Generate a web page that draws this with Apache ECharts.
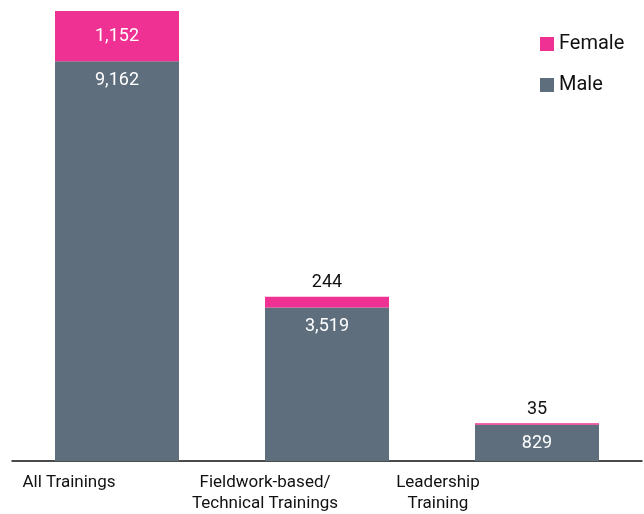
<!DOCTYPE html>
<html>
<head>
<meta charset="utf-8">
<script src="https://cdn.jsdelivr.net/npm/echarts@6/dist/echarts.min.js"></script>
<style>
html, body { margin: 0; padding: 0; background: #fff; }
#chart { width: 644px; height: 514px; }
</style>
</head>
<body>
<div id="chart"></div>
<script type="text/javascript">

var categories = ['All Trainings', 'Fieldwork-based/\nTechnical Trainings', 'Leadership\nTraining'];
var male = [9162, 3519, 829];
var female = [1152, 244, 35];

// labels in the original sit left of the bar centre, by a different amount each
var labelShift = [96, 124, 198];

var rich = {};
labelShift.forEach(function (s, i) {
    rich['s' + i] = { padding: [0, s, 0, 0], fontSize: 17, lineHeight: 21, color: '#111', fontFamily: 'Roboto' };
});

var femaleData = female.map(function (v, i) {
    if (i === 0) {
        return { value: v, label: { position: 'inside', color: '#fff' } };
    }
    return { value: v, label: { position: 'top', color: '#111', distance: 5 } };
});

var option = {
    animation: false,
    textStyle: { fontFamily: 'Roboto' },
    legend: {
        data: ['Female', 'Male'],
        orient: 'vertical',
        left: 535,
        top: 29,
        icon: 'rect',
        itemWidth: 14,
        itemHeight: 14,
        itemGap: 21,
        textStyle: { fontSize: 20, color: '#111', fontFamily: 'Roboto' }
    },
    grid: { left: 12, right: 2, top: 11, bottom: 53, outerBoundsMode: 'none', containLabel: false },
    xAxis: {
        type: 'category',
        data: categories,
        axisLine: { lineStyle: { color: '#111', width: 1.5 } },
        axisTick: { show: false },
        axisLabel: {
            interval: 0,
            margin: 11,
            formatter: function (value, index) {
                return value.split('\n').map(function (line) {
                    return '{s' + index + '|' + line + '}';
                }).join('\n');
            },
            rich: rich
        }
    },
    yAxis: {
        type: 'value',
        min: 0,
        max: male[0] + female[0],
        show: false,
        splitLine: { show: false }
    },
    series: [
        {
            name: 'Male',
            type: 'bar',
            stack: 'total',
            barWidth: 124,
            itemStyle: { color: '#5e6e7d' },
            label: {
                show: true,
                position: 'insideTop',
                distance: 10,
                color: '#fff',
                fontSize: 18,
                fontFamily: 'Roboto',
                formatter: function (p) { return p.value.toLocaleString('en-US'); }
            },
            data: male
        },
        {
            name: 'Female',
            type: 'bar',
            stack: 'total',
            barWidth: 124,
            itemStyle: { color: '#ee3192' },
            label: {
                show: true,
                fontSize: 18,
                fontFamily: 'Roboto',
                formatter: function (p) { return p.value.toLocaleString('en-US'); }
            },
            data: femaleData
        }
    ]
};

var chart = echarts.init(document.getElementById('chart'));
chart.setOption(option);
</script>
</body>
</html>
